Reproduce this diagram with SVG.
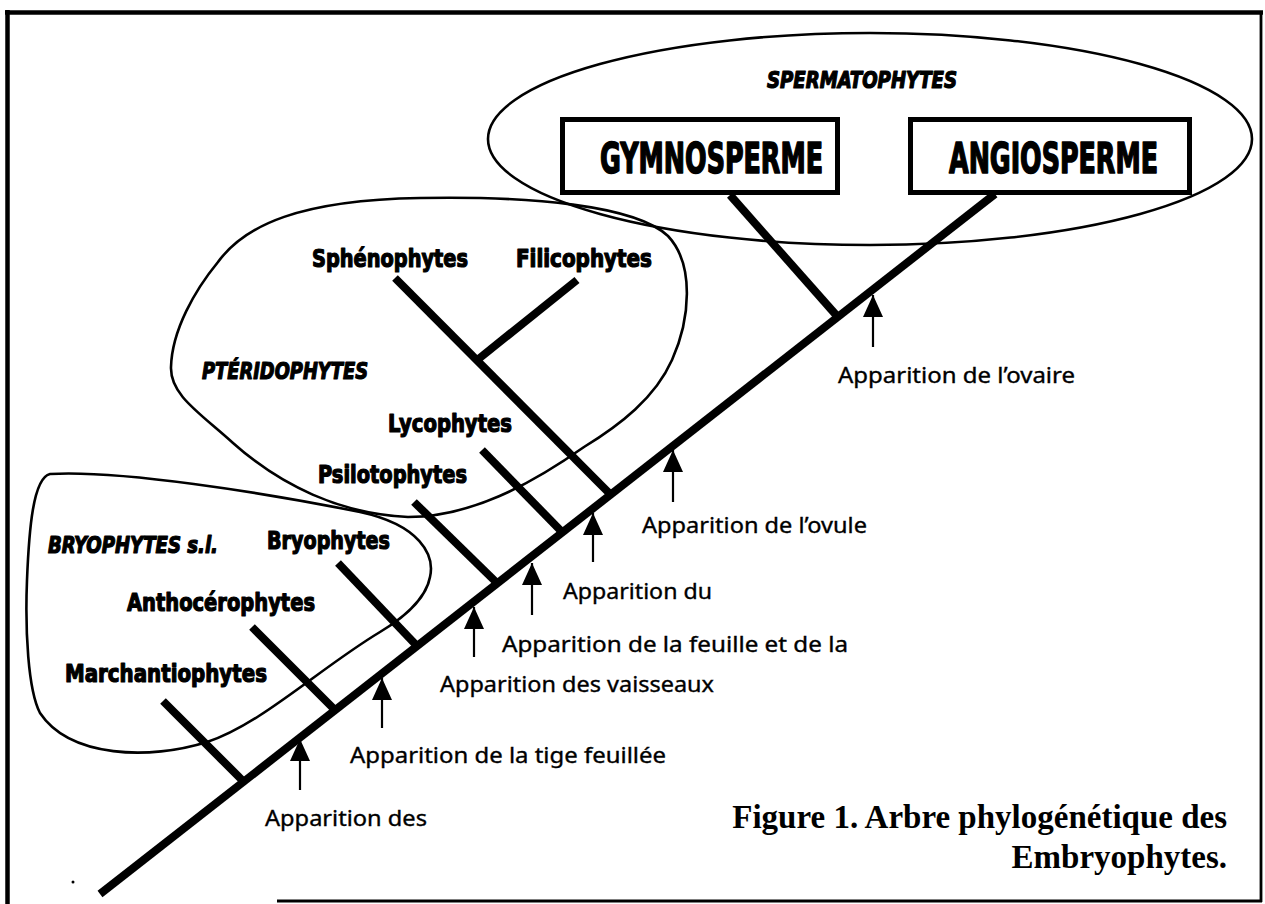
<svg xmlns="http://www.w3.org/2000/svg" width="1265" height="904" viewBox="0 0 1265 904">
  <defs>
    <style>
      .frame { fill: none; stroke: #000; }
      .clade { fill: none; stroke: #000; stroke-width: 2.6; }
      .edge { fill: none; stroke: #000; stroke-width: 8; stroke-linecap: butt; }
      .box { fill: #fff; stroke: #000; stroke-width: 5; }
      .taxon { font-family: "DejaVu Sans Condensed", "Liberation Sans Narrow", "Liberation Sans", sans-serif; font-weight: bold; font-size: 25px; fill: #000; stroke: #000; stroke-width: 1.2; stroke-linejoin: round; }
      .group { font-style: italic; font-size: 23px; }
      .big { font-size: 42px; stroke-width: 1.6; }
      .evt { font-family: "Noto Sans", "DejaVu Sans", sans-serif; font-size: 21px; fill: #000; stroke: #000; stroke-width: 0.35; }
      .shaft { stroke: #000; stroke-width: 2.2; fill: none; marker-end: url(#head); }
      .caption { font-family: "Liberation Serif", "Times New Roman", serif; font-weight: bold; font-size: 33px; fill: #000; text-anchor: end; }
    </style>
    <marker id="head" viewBox="0 0 22 20" refX="22" refY="10" orient="auto" markerUnits="userSpaceOnUse" markerWidth="22" markerHeight="20">
      <path d="M0,0 L22,10 L0,20 Z" fill="#000"/>
    </marker>
  </defs>

  <rect width="1265" height="904" fill="#fff"/>

  <!-- page frame: heavy top/left rules, lighter right/bottom -->
  <g id="frame" class="frame">
    <line x1="5" y1="12.5" x2="1263" y2="12.5" stroke-width="4.5"/>
    <line x1="7.5" y1="10" x2="7.5" y2="904" stroke-width="4.5"/>
    <line x1="1261" y1="12" x2="1261" y2="902" stroke-width="2.8"/>
    <line x1="277" y1="901" x2="1262" y2="901" stroke-width="2.8"/>
  </g>
  <circle cx="73" cy="882" r="1.5" fill="#000"/>

  <!-- clade enclosures -->
  <g id="clade-spermatophytes">
    <ellipse class="clade" cx="870" cy="139" rx="382" ry="106"/>
    <text class="taxon group" x="767" y="88" textLength="190" lengthAdjust="spacingAndGlyphs">SPERMATOPHYTES</text>
  </g>
  <g id="clade-pteridophytes">
    <path class="clade" d="M420,198 C530,196 635,205 668,236 C695,265 690,320 672,360 C655,398 620,425 584,447 C530,485 470,517 408,517 C340,514 280,485 233,443 C200,413 170,395 171,367 C172,330 195,290 218,262 C245,225 300,200 420,198 Z"/>
    <text class="taxon group" x="202" y="379" textLength="166" lengthAdjust="spacingAndGlyphs">PTÉRIDOPHYTES</text>
  </g>
  <g id="clade-bryophytes">
    <path class="clade" d="M50,474 C120,470 260,492 360,512 C420,525 435,555 430,577 C426,600 400,620 380,632 C320,668 260,725 207,742 C150,760 70,758 40,713 C28,690 25,630 27,580 C29,530 33,478 50,474 Z"/>
    <text class="taxon group" x="48" y="553" textLength="170" lengthAdjust="spacingAndGlyphs">BRYOPHYTES s.l.</text>
  </g>

  <!-- tree: trunk and branches -->
  <g id="connectors">
    <line class="edge" x1="100" y1="894" x2="995" y2="194"/>
    <line class="edge" x1="163" y1="701" x2="243" y2="781"/>
    <line class="edge" x1="252" y1="627" x2="335" y2="710"/>
    <line class="edge" x1="338" y1="563" x2="417" y2="646"/>
    <line class="edge" x1="414" y1="502" x2="497" y2="583"/>
    <line class="edge" x1="482" y1="450" x2="562" y2="532"/>
    <line class="edge" x1="395" y1="278" x2="612" y2="496"/>
    <line class="edge" x1="577" y1="280" x2="476" y2="361"/>
    <line class="edge" x1="730" y1="195" x2="837" y2="316"/>
  </g>

  <!-- taxa -->
  <g id="gymnosperme">
    <rect class="box" x="562.5" y="119.5" width="275" height="73"/>
    <text class="taxon big" x="600" y="173" textLength="223" lengthAdjust="spacingAndGlyphs">GYMNOSPERME</text>
  </g>
  <g id="angiosperme">
    <rect class="box" x="910.5" y="119.5" width="279" height="73"/>
    <text class="taxon big" x="949" y="173" textLength="209" lengthAdjust="spacingAndGlyphs">ANGIOSPERME</text>
  </g>
  <g id="sphenophytes"><text class="taxon" x="312" y="267" textLength="156" lengthAdjust="spacingAndGlyphs">Sphénophytes</text></g>
  <g id="filicophytes"><text class="taxon" x="516" y="267" textLength="136" lengthAdjust="spacingAndGlyphs">Filicophytes</text></g>
  <g id="lycophytes"><text class="taxon" x="388" y="432" textLength="124" lengthAdjust="spacingAndGlyphs">Lycophytes</text></g>
  <g id="psilotophytes"><text class="taxon" x="318" y="483" textLength="149" lengthAdjust="spacingAndGlyphs">Psilotophytes</text></g>
  <g id="bryophytes"><text class="taxon" x="267" y="549" textLength="123" lengthAdjust="spacingAndGlyphs">Bryophytes</text></g>
  <g id="anthocerophytes"><text class="taxon" x="127" y="611" textLength="188" lengthAdjust="spacingAndGlyphs">Anthocérophytes</text></g>
  <g id="marchantiophytes"><text class="taxon" x="65" y="682" textLength="202" lengthAdjust="spacingAndGlyphs">Marchantiophytes</text></g>

  <!-- innovations along the trunk -->
  <g id="evt-stomates">
    <line class="shaft" x1="300" y1="790" x2="300" y2="739"/>
    <text class="evt" x="265" y="826" textLength="162" lengthAdjust="spacingAndGlyphs">Apparition des</text>
  </g>
  <g id="evt-tige">
    <line class="shaft" x1="382" y1="728" x2="382" y2="678"/>
    <text class="evt" x="350" y="763" textLength="316" lengthAdjust="spacingAndGlyphs">Apparition de la tige feuillée</text>
  </g>
  <g id="evt-vaisseaux">
    <line class="shaft" x1="474" y1="657" x2="474" y2="607"/>
    <text class="evt" x="440" y="692" textLength="274" lengthAdjust="spacingAndGlyphs">Apparition des vaisseaux</text>
  </g>
  <g id="evt-feuille">
    <line class="shaft" x1="532" y1="615" x2="532" y2="563"/>
    <text class="evt" x="502" y="652" textLength="346" lengthAdjust="spacingAndGlyphs">Apparition de la feuille et de la</text>
  </g>
  <g id="evt-du">
    <line class="shaft" x1="593" y1="562" x2="593" y2="513"/>
    <text class="evt" x="563" y="599" textLength="149" lengthAdjust="spacingAndGlyphs">Apparition du</text>
  </g>
  <g id="evt-ovule">
    <line class="shaft" x1="673" y1="502" x2="673" y2="450"/>
    <text class="evt" x="642" y="533" textLength="225" lengthAdjust="spacingAndGlyphs">Apparition de l’ovule</text>
  </g>
  <g id="evt-ovaire">
    <line class="shaft" x1="873" y1="347" x2="873" y2="295"/>
    <text class="evt" x="838" y="383" textLength="237" lengthAdjust="spacingAndGlyphs">Apparition de l’ovaire</text>
  </g>

  <g id="caption">
    <text class="caption" x="1227" y="828">Figure 1. Arbre phylogénétique des</text>
    <text class="caption" x="1227" y="868">Embryophytes.</text>
  </g>
</svg>
